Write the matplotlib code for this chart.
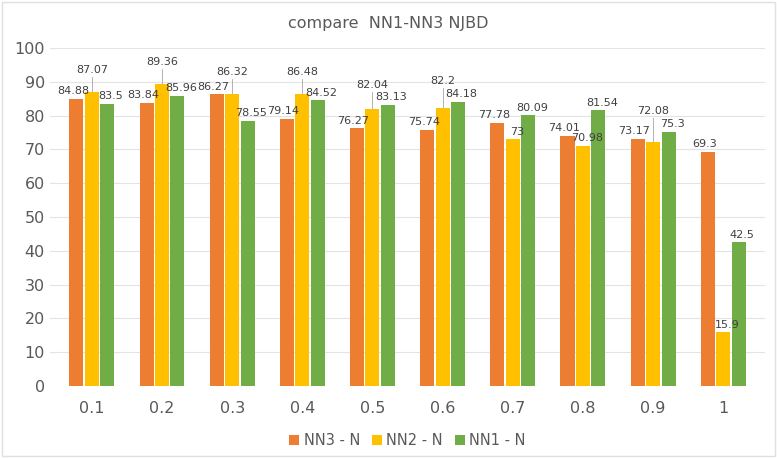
import numpy as np
import matplotlib.pyplot as plt

plt.rcParams['font.family'] = ['Liberation Sans Narrow', 'DejaVu Sans']

# datos de cada serie
categorias = ['0.1', '0.2', '0.3', '0.4', '0.5', '0.6', '0.7', '0.8', '0.9', '1']
nn3 = [84.88, 83.84, 86.27, 79.14, 76.27, 75.74, 77.78, 74.01, 73.17, 69.3]
nn2 = [87.07, 89.36, 86.32, 86.48, 82.04, 82.2, 73, 70.98, 72.08, 15.9]
nn1 = [83.5, 85.96, 78.55, 84.52, 83.13, 84.18, 80.09, 81.54, 75.3, 42.5]
series = ['NN3 - N', 'NN2 - N', 'NN1 - N']
colores = ['#ED7D31', '#FFC000', '#70AD47']

fig = plt.figure(figsize=(7.77, 4.58), dpi=100)
fig.patch.set_facecolor('white')
ax = fig.add_axes([0.064, 0.157, 0.921, 0.738])

x = np.arange(len(categorias))
ancho = 0.2
gris = '#595959'
etiq = dict(ha='center', va='bottom', fontsize=8, color='#404040')

for i, (vals, nombre, color) in enumerate(zip([nn3, nn2, nn1], series, colores)):
    pos = x + (i - 1) * (ancho + 0.02)
    ax.bar(pos, vals, width=ancho, color=color, label=nombre, zorder=3)

# etiquetas de valor
for k in range(len(categorias)):
    p3, p2, p1 = x[k] - 0.22, x[k], x[k] + 0.22
    ax.text(p3 - 0.05, nn3[k] + 0.8, f'{nn3[k]:g}', **etiq)
    ax.text(p1 + 0.05, nn1[k] + 0.8, f'{nn1[k]:g}', **etiq)
    v = nn2[k]
    if v >= min(nn3[k], nn1[k]) - 2:
        # etiqueta del centro elevada con linea guia
        y = max(v + 5, max(nn3[k], nn1[k]) + 4.5)
        ax.plot([p2, p2], [v, y - 0.5], color='#A6A6A6', lw=0.6, zorder=2)
        ax.text(p2, y, f'{v:g}', **etiq)
    else:
        ax.text(p2 + 0.06, v + 0.8, f'{v:g}', **etiq)

ax.set_ylim(0, 100)
ax.set_yticks(range(0, 101, 10))
ax.set_xlim(-0.6, len(categorias) - 0.4)
ax.set_xticks(x)
ax.set_xticklabels(categorias)
ax.tick_params(axis='both', length=0, labelsize=11.5, colors=gris)
ax.tick_params(axis='x', pad=11)
ax.grid(axis='y', color='#E3E3E3', lw=0.8, zorder=0)
for s in ax.spines.values():
    s.set_visible(False)

fig.text(0.5, 0.948, 'compare  NN1-NN3 NJBD', ha='center', va='center',
         fontsize=11.5, color=gris)

ax.legend(loc='upper center', bbox_to_anchor=(0.5, -0.1), ncol=3,
          frameon=False, fontsize=10.5, handlelength=0.7, handleheight=0.7,
          handletextpad=0.3, columnspacing=0.8, labelcolor=gris)

# borde del area del grafico
fig.add_artist(plt.Rectangle((0.003, 0.005), 0.994, 0.99, transform=fig.transFigure,
                             fill=False, edgecolor='#E0E0E0', lw=1))

fig.savefig('out.png', dpi=100)
